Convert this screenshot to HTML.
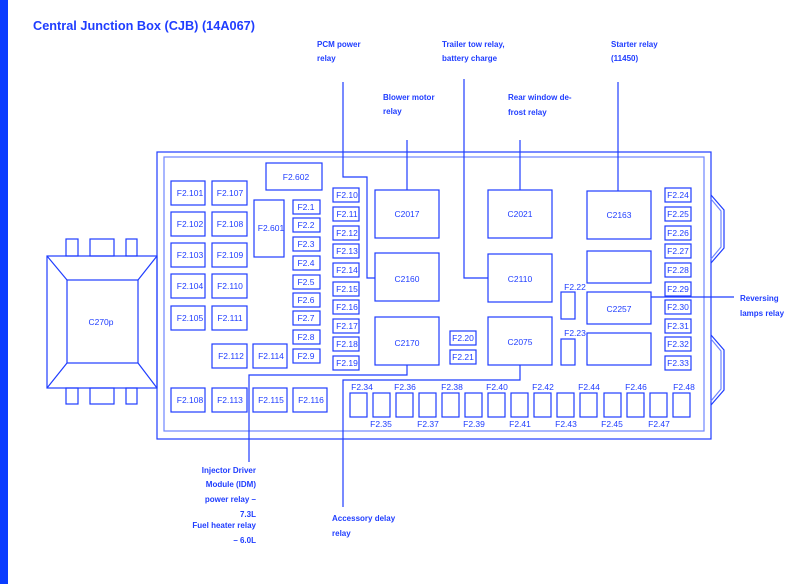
<!DOCTYPE html>
<html><head><meta charset="utf-8">
<style>
html,body{margin:0;padding:0;background:#fff;}
svg{display:block;}
text{font-family:"Liberation Sans",sans-serif;fill:#1f3dff;}
.l{font-size:8px;font-weight:bold;}
.f{font-size:8.5px;}
</style></head><body>
<svg width="800" height="584" viewBox="0 0 800 584" xmlns="http://www.w3.org/2000/svg">
<rect x="0" y="0" width="8" height="584" fill="#0a3cff"/>
<text x="33" y="30" font-size="13" font-weight="bold" textLength="222" lengthAdjust="spacingAndGlyphs">Central Junction Box (CJB) (14A067)</text>

<g fill="none" stroke="#1f3dff" stroke-width="1.2">
<!-- main boxes -->
<rect x="157" y="152" width="554" height="287"/>
<rect x="164" y="157" width="540" height="274" stroke="#6f86ff"/>
<!-- right bumps -->
<polyline points="711,195 724,210 724,248 711,263"/>
<polyline points="711,199 721,211 721,247 711,259" stroke="#6f86ff"/>
<polyline points="711,335 724,350 724,390 711,405"/>
<polyline points="711,339 721,351 721,389 711,401" stroke="#6f86ff"/>
<!-- C270p connector -->
<rect x="47" y="256" width="110" height="132"/>
<rect x="67" y="280" width="71" height="83"/>
<line x1="47" y1="256" x2="67" y2="280"/><line x1="157" y1="256" x2="138" y2="280"/>
<line x1="47" y1="388" x2="67" y2="363"/><line x1="157" y1="388" x2="138" y2="363"/>
<rect x="66" y="239" width="12" height="17"/><rect x="90" y="239" width="24" height="17"/><rect x="126" y="239" width="11" height="17"/>
<rect x="66" y="388" width="12" height="16"/><rect x="90" y="388" width="24" height="16"/><rect x="126" y="388" width="11" height="16"/>

<!-- left fuses -->
<rect x="171" y="181" width="34" height="24"/><rect x="212" y="181" width="35" height="24"/>
<rect x="171" y="212" width="34" height="24"/><rect x="212" y="212" width="35" height="24"/>
<rect x="171" y="243" width="34" height="24"/><rect x="212" y="243" width="35" height="24"/>
<rect x="171" y="274" width="34" height="24"/><rect x="212" y="274" width="35" height="24"/>
<rect x="171" y="306" width="34" height="24"/><rect x="212" y="306" width="35" height="24"/>
<rect x="212" y="344" width="35" height="24"/><rect x="253" y="344" width="34" height="24"/>
<rect x="171" y="388" width="34" height="24"/><rect x="212" y="388" width="35" height="24"/>
<rect x="253" y="388" width="34" height="24"/><rect x="293" y="388" width="34" height="24"/>
<rect x="266" y="163" width="56" height="27"/>
<rect x="254" y="200" width="30" height="57"/>
<!-- F2.1-F2.9 -->
<rect x="293" y="200" width="27" height="14"/><rect x="293" y="218" width="27" height="14"/>
<rect x="293" y="237" width="27" height="14"/><rect x="293" y="256" width="27" height="14"/>
<rect x="293" y="275" width="27" height="14"/><rect x="293" y="293" width="27" height="14"/>
<rect x="293" y="311" width="27" height="14"/><rect x="293" y="330" width="27" height="14"/>
<rect x="293" y="349" width="27" height="14"/>
<!-- F2.10-F2.19 -->
<rect x="333" y="188" width="26" height="14"/><rect x="333" y="207" width="26" height="14"/>
<rect x="333" y="226" width="26" height="14"/><rect x="333" y="244" width="26" height="14"/>
<rect x="333" y="263" width="26" height="14"/><rect x="333" y="282" width="26" height="14"/>
<rect x="333" y="300" width="26" height="14"/><rect x="333" y="319" width="26" height="14"/>
<rect x="333" y="337" width="26" height="14"/><rect x="333" y="356" width="26" height="14"/>
<!-- relays -->
<rect x="375" y="190" width="64" height="48"/><rect x="488" y="190" width="64" height="48"/><rect x="587" y="191" width="64" height="48"/>
<rect x="375" y="253" width="64" height="48"/><rect x="488" y="254" width="64" height="48"/><rect x="587" y="251" width="64" height="32"/>
<rect x="375" y="317" width="64" height="48"/><rect x="488" y="317" width="64" height="48"/>
<rect x="587" y="292" width="64" height="32"/><rect x="587" y="333" width="64" height="32"/>
<rect x="450" y="331" width="26" height="14"/><rect x="450" y="350" width="26" height="14"/>
<rect x="561" y="292" width="14" height="27"/><rect x="561" y="339" width="14" height="26"/>
<!-- F2.24-F2.33 -->
<rect x="665" y="188" width="26" height="14"/><rect x="665" y="207" width="26" height="14"/>
<rect x="665" y="226" width="26" height="14"/><rect x="665" y="244" width="26" height="14"/>
<rect x="665" y="263" width="26" height="14"/><rect x="665" y="282" width="26" height="14"/>
<rect x="665" y="300" width="26" height="14"/><rect x="665" y="319" width="26" height="14"/>
<rect x="665" y="337" width="26" height="14"/><rect x="665" y="356" width="26" height="14"/>
<!-- bottom fuses -->
<rect x="350" y="393" width="17" height="24"/><rect x="373" y="393" width="17" height="24"/>
<rect x="396" y="393" width="17" height="24"/><rect x="419" y="393" width="17" height="24"/>
<rect x="442" y="393" width="17" height="24"/><rect x="465" y="393" width="17" height="24"/>
<rect x="488" y="393" width="17" height="24"/><rect x="511" y="393" width="17" height="24"/>
<rect x="534" y="393" width="17" height="24"/><rect x="557" y="393" width="17" height="24"/>
<rect x="580" y="393" width="17" height="24"/><rect x="604" y="393" width="17" height="24"/>
<rect x="627" y="393" width="17" height="24"/><rect x="650" y="393" width="17" height="24"/>
<rect x="673" y="393" width="17" height="24"/>

<!-- connector lines -->
<polyline points="343,82 343,177 367,177 367,278 375,278"/>
<line x1="407" y1="140" x2="407" y2="190"/>
<polyline points="464,79 464,278 488,278"/>
<line x1="520" y1="140" x2="520" y2="190"/>
<line x1="618" y1="82" x2="618" y2="191"/>
<line x1="651" y1="297" x2="734" y2="297"/>
<polyline points="407,365 407,375 249,375 249,462"/>
<polyline points="520,365 520,380 343,380 343,507"/>
</g>

<g class="f" text-anchor="middle">
<text x="190" y="196">F2.101</text><text x="230" y="196">F2.107</text>
<text x="190" y="227">F2.102</text><text x="230" y="227">F2.108</text>
<text x="190" y="258">F2.103</text><text x="230" y="258">F2.109</text>
<text x="190" y="289">F2.104</text><text x="230" y="289">F2.110</text>
<text x="190" y="321">F2.105</text><text x="230" y="321">F2.111</text>
<text x="231" y="359">F2.112</text><text x="271" y="359">F2.114</text>
<text x="190" y="403">F2.108</text><text x="230" y="403">F2.113</text>
<text x="271" y="403">F2.115</text><text x="311" y="403">F2.116</text>
<text x="296" y="180">F2.602</text><text x="271" y="231">F2.601</text>
<text x="306" y="210">F2.1</text><text x="306" y="228">F2.2</text><text x="306" y="247">F2.3</text>
<text x="306" y="266">F2.4</text><text x="306" y="285">F2.5</text><text x="306" y="303">F2.6</text>
<text x="306" y="321">F2.7</text><text x="306" y="340">F2.8</text><text x="306" y="359">F2.9</text>
<text x="347" y="198">F2.10</text><text x="347" y="217">F2.11</text><text x="347" y="236">F2.12</text>
<text x="347" y="254">F2.13</text><text x="347" y="273">F2.14</text><text x="347" y="292">F2.15</text>
<text x="347" y="310">F2.16</text><text x="347" y="329">F2.17</text><text x="347" y="347">F2.18</text>
<text x="347" y="366">F2.19</text>
<text x="407" y="217">C2017</text><text x="520" y="217">C2021</text><text x="619" y="218">C2163</text>
<text x="407" y="282">C2160</text><text x="520" y="282">C2110</text><text x="619" y="312">C2257</text>
<text x="407" y="346">C2170</text><text x="520" y="345">C2075</text>
<text x="463" y="341">F2.20</text><text x="463" y="360">F2.21</text>
<text x="575" y="290">F2.22</text><text x="575" y="336">F2.23</text>
<text x="678" y="198">F2.24</text><text x="678" y="217">F2.25</text><text x="678" y="236">F2.26</text>
<text x="678" y="254">F2.27</text><text x="678" y="273">F2.28</text><text x="678" y="292">F2.29</text>
<text x="678" y="310">F2.30</text><text x="678" y="329">F2.31</text><text x="678" y="347">F2.32</text>
<text x="678" y="366">F2.33</text>
<text x="101" y="325">C270p</text>
<text x="362" y="390">F2.34</text><text x="381" y="427">F2.35</text>
<text x="405" y="390">F2.36</text><text x="428" y="427">F2.37</text>
<text x="452" y="390">F2.38</text><text x="474" y="427">F2.39</text>
<text x="497" y="390">F2.40</text><text x="520" y="427">F2.41</text>
<text x="543" y="390">F2.42</text><text x="566" y="427">F2.43</text>
<text x="589" y="390">F2.44</text><text x="612" y="427">F2.45</text>
<text x="636" y="390">F2.46</text><text x="659" y="427">F2.47</text>
<text x="684" y="390">F2.48</text>
</g>

<g class="l">
<text x="317" y="47">PCM power</text><text x="317" y="61">relay</text>
<text x="442" y="47">Trailer tow relay,</text><text x="442" y="61">battery charge</text>
<text x="611" y="47">Starter relay</text><text x="611" y="61">(11450)</text>
<text x="383" y="100">Blower motor</text><text x="383" y="114">relay</text>
<text x="508" y="100">Rear window de-</text><text x="508" y="115">frost relay</text>
<text x="740" y="301">Reversing</text><text x="740" y="316">lamps relay</text>
<text x="332" y="521">Accessory delay</text><text x="332" y="536">relay</text>
</g>
<g class="l" text-anchor="end">
<text x="256" y="473">Injector Driver</text>
<text x="256" y="487">Module (IDM)</text>
<text x="256" y="502">power relay –</text>
<text x="256" y="517">7.3L</text>
<text x="256" y="528">Fuel heater relay</text>
<text x="256" y="543">– 6.0L</text>
</g>
</svg>
</body></html>
